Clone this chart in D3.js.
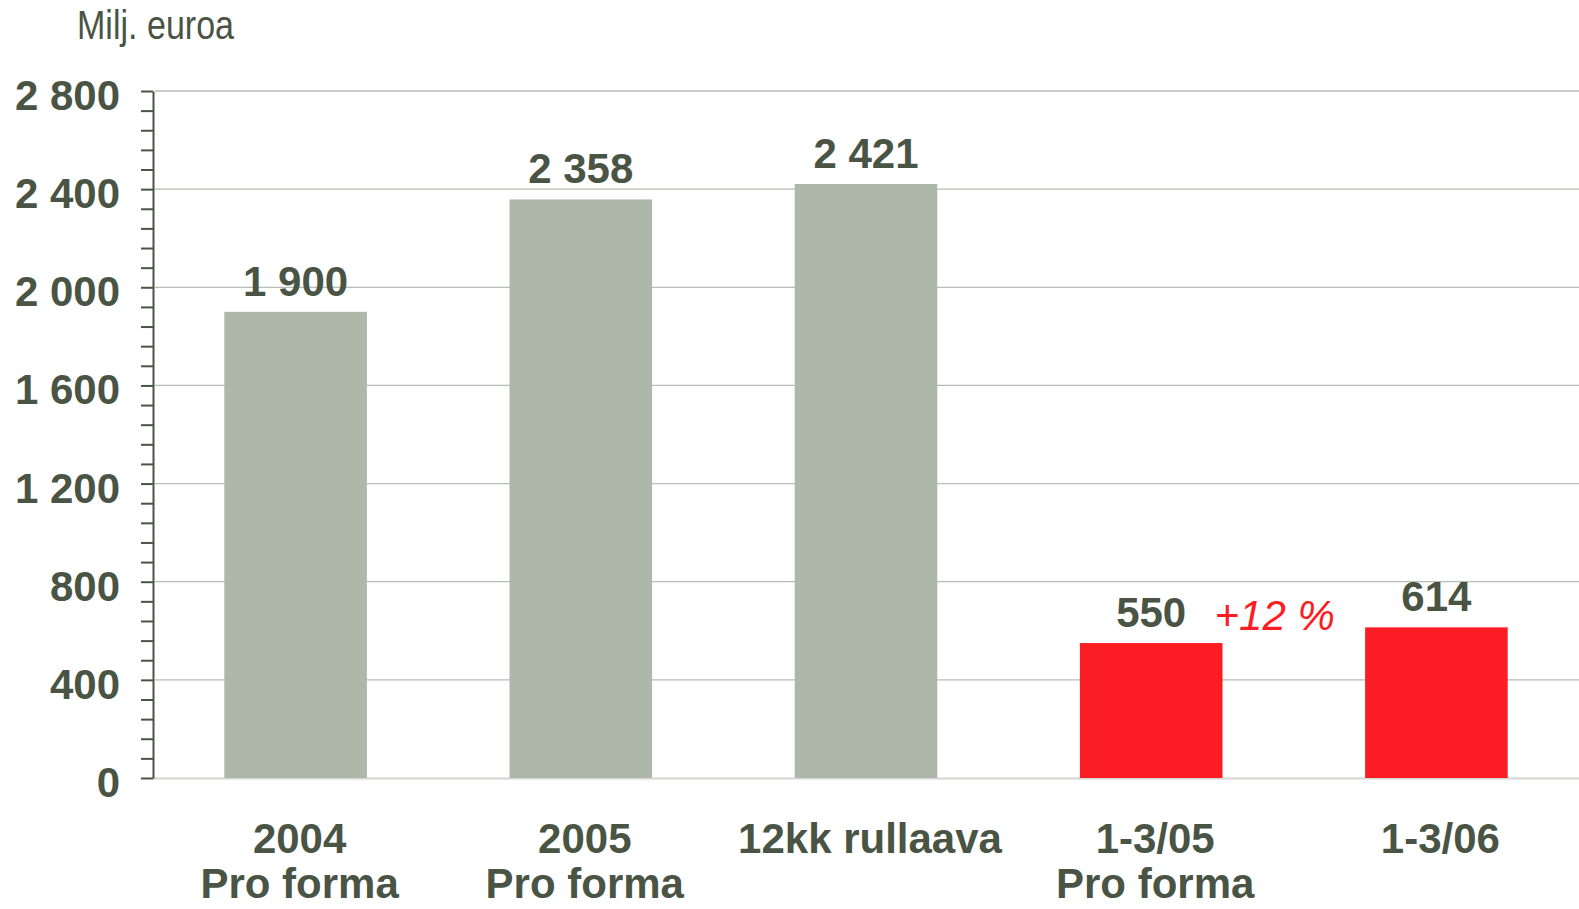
<!DOCTYPE html>
<html lang="fi">
<head>
    <meta charset="UTF-8">
    <title>Milj. euroa</title>
    <script src="https://d3js.org/d3.v7.min.js"></script>
    <style>
        body { margin: 0; background: #ffffff; }
        svg text { font-family: "Liberation Sans", Arial, sans-serif; }
        .lbl { font-weight: bold; fill: #4a5444; }
    </style>
</head>
<body>
<div id="chart"></div>
<script>
    // Data
    const categories = ["2004|Pro forma", "2005|Pro forma", "12kk rullaava", "1-3/05|Pro forma", "1-3/06"];
    const values = [1900, 2358, 2421, 550, 614];
    const valueLabels = ["1 900", "2 358", "2 421", "550", "614"];
    const barKinds = ["year", "year", "year", "quarter", "quarter"];
    const yTicks = [0, 400, 800, 1200, 1600, 2000, 2400, 2800];
    const yTickLabels = ["0", "400", "800", "1 200", "1 600", "2 000", "2 400", "2 800"];
    const growthNote = "+12 %";
    const unitLabel = "Milj. euroa";

    const W = 1579, H = 909;
    const plotLeft = 153, plotRight = W, plotTop = 91, plotBottom = 778;
    const textColor = "#4a5444";
    const colors = {year: "#adb8ab", quarter: "#fc1c24"};

    const svg = d3.select("#chart").append("svg")
        .attr("width", W)
        .attr("height", H);

    const x = d3.scaleBand()
        .domain(categories)
        .range([plotLeft, plotRight])
        .paddingInner(0.5)
        .paddingOuter(0.25);

    const y = d3.scaleLinear()
        .domain([0, 2800])
        .range([plotBottom, plotTop]);

    // Gridlines
    svg.append("g")
        .selectAll("line")
        .data(yTicks.filter(d => d > 0))
        .join("line")
        .attr("x1", plotLeft + 2)
        .attr("x2", plotRight)
        .attr("y1", d => y(d))
        .attr("y2", d => y(d))
        .attr("stroke", "#b5beb2")
        .attr("stroke-width", 1.3);

    // baseline
    svg.append("line")
        .attr("x1", plotLeft)
        .attr("x2", plotRight)
        .attr("y1", y(0) + 0.5)
        .attr("y2", y(0) + 0.5)
        .attr("stroke", "#d3d6d2")
        .attr("stroke-width", 2);

    // Bars
    svg.append("g")
        .selectAll("rect")
        .data(values)
        .join("rect")
        .attr("x", (d, i) => x(categories[i]))
        .attr("y", d => y(d))
        .attr("width", x.bandwidth())
        .attr("height", d => y(0) - y(d))
        .attr("fill", (d, i) => colors[barKinds[i]]);

    // Y axis with minor ticks
    const yAxis = d3.axisLeft(y)
        .tickValues(d3.range(0, 2801, 80))
        .tickSize(12)
        .tickSizeOuter(0)
        .tickFormat("");
    const axisG = svg.append("g")
        .attr("transform", `translate(${plotLeft},0)`)
        .call(yAxis);
    axisG.select(".domain").attr("stroke", textColor).attr("stroke-width", 2);
    axisG.selectAll(".tick line").attr("stroke", textColor).attr("stroke-width", 2);

    // Y tick labels
    svg.append("g")
        .selectAll("text")
        .data(yTicks)
        .join("text")
        .attr("class", "lbl")
        .attr("x", 120)
        .attr("y", d => y(d) + 19)
        .attr("text-anchor", "end")
        .style("font-size", "42px")
        .text((d, i) => yTickLabels[i]);

    // Value labels
    svg.append("g")
        .selectAll("text")
        .data(values)
        .join("text")
        .attr("class", "lbl")
        .attr("x", (d, i) => x(categories[i]) + x.bandwidth() / 2)
        .attr("y", d => y(d) - 16)
        .attr("text-anchor", "middle")
        .style("font-size", "42px")
        .text((d, i) => valueLabels[i]);

    // Category labels
    const catG = svg.append("g")
        .selectAll("text")
        .data(categories)
        .join("text")
        .attr("class", "lbl")
        .attr("text-anchor", "middle")
        .attr("y", 853)
        .style("font-size", "42px");
    catG.selectAll("tspan")
        .data(d => d.split("|").map(s => ({s, c: d})))
        .join("tspan")
        .attr("x", d => x(d.c) + x.bandwidth() / 2 + 4)
        .attr("dy", (d, i) => i === 0 ? 0 : 45)
        .text(d => d.s);

    // Growth note
    svg.append("text")
        .attr("x", x(categories[3]) + x.bandwidth() - 8)
        .attr("y", 630)
        .attr("fill", "#fc1c24")
        .style("font-size", "42px")
        .style("font-style", "italic")
        .text(growthNote);

    // Unit label
    svg.append("text")
        .attr("x", 77)
        .attr("y", 39)
        .attr("fill", textColor)
        .attr("textLength", 157)
        .attr("lengthAdjust", "spacingAndGlyphs")
        .style("font-family", "'Liberation Sans Narrow', 'Liberation Sans', sans-serif")
        .style("font-size", "40px")
        .text(unitLabel);
</script>
</body>
</html>
